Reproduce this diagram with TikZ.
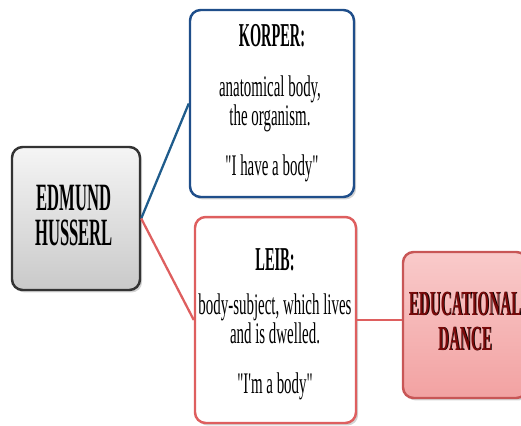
\documentclass[tikz,border=0pt]{standalone}
\usepackage{fontspec}
\setmainfont{Liberation Serif}[FakeStretch=0.5, Ligatures=TeXOff]
\newfontfamily\headfont{Liberation Serif}[FakeStretch=0.43, Ligatures=TeXOff]
\usetikzlibrary{shadows}
\definecolor{korperblue}{HTML}{1F4E8A}
\definecolor{linkblue}{HTML}{1F5C8C}
\definecolor{leibred}{HTML}{DE5F5F}
\definecolor{dancered}{HTML}{7A0A0A}
\definecolor{dancetop}{HTML}{F9CACA}
\definecolor{dancebottom}{HTML}{F2A2A2}

\begin{document}
\begin{tikzpicture}[x=0.02cm, y=-0.02cm,
		box/.style={shape=rectangle, rounded corners=6pt, line width=1.4pt, inner sep=0pt, drop shadow={shadow xshift=1.2pt, shadow yshift=-1.4pt, opacity=0.35}},
		headtext/.style={anchor=base, inner sep=0pt, font=\headfont\bfseries\fontsize{19}{21}\selectfont},
		bodytext/.style={anchor=base, inner sep=0pt, align=center, font=\fontsize{17}{14.8}\selectfont},
		link/.style={line width=1.3pt}]
			\useasboundingbox (0, 0) rectangle (521, 426);
			\clip (0, 0) rectangle (521, 426);
			\node[box, draw=black!80, top color=gray!8, bottom color=gray!42, minimum width=2.56cm, minimum height=2.86cm] (husserl) at (76, 218.5){};
			\node[box, draw=korperblue, fill=white, minimum width=3.28cm, minimum height=3.74cm] (korper) at (272, 103.5){};
			\node[box, draw=leibred, fill=white, minimum width=3.22cm, minimum height=4.12cm] (leib) at (275.5, 320){};
			\node[box, draw=leibred!90!black, top color=dancetop, bottom color=dancebottom, minimum width=2.48cm, minimum height=2.92cm] (dance) at (465, 325){};
			\draw[link, linkblue] (husserl.east) -- (korper.west);
			\draw[link, leibred] (husserl.east) -- (leib.west);
			\draw[link, leibred] (leib.east) -- (leib.east -| dance.west);
			\node[headtext, font=\headfont\bfseries\fontsize{22}{24}\selectfont] (husserl1) at (74, 210){EDMUND};
			\node[headtext, font=\headfont\bfseries\fontsize{22}{24}\selectfont] (husserl2) at (74, 245){HUSSERL};
			\node[headtext] (korper1) at (272, 47){KORPER:};
			\node[bodytext] (korper2) at (270, 125){anatomical body,\\the organism.};
			\node[bodytext] (korper3) at (272, 175){"I have a body"};
			\node[headtext] (leib1) at (275, 270){LEIB:};
			\node[bodytext] (leib2) at (275, 343){body-subject, which lives\\and is dwelled.};
			\node[bodytext] (leib3) at (275, 393){"I'm a body"};
			\node[headtext, font=\headfont\bfseries\fontsize{20}{22}\selectfont, black] (dance1s) at (465.8, 315.8){EDUCATIONAL};
			\node[headtext, font=\headfont\bfseries\fontsize{20}{22}\selectfont, black] (dance2s) at (465.8, 350.8){DANCE};
			\node[headtext, font=\headfont\bfseries\fontsize{20}{22}\selectfont, dancered] (dance1) at (465, 315){EDUCATIONAL};
			\node[headtext, font=\headfont\bfseries\fontsize{20}{22}\selectfont, dancered] (dance2) at (465, 350){DANCE};
		\end{tikzpicture}
\end{document}
